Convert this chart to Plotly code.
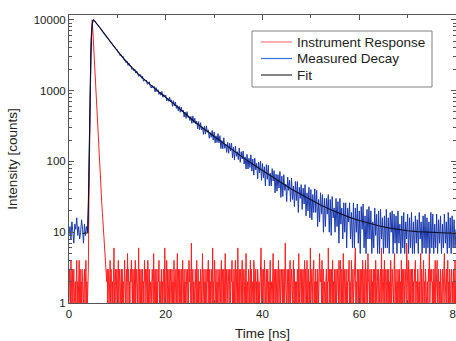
import plotly.graph_objects as go

IRF_STEP = 0.1    # channel width of the instrument response (ns)
DECAY_STEP = 0.2  # channel width of the measured decay (ns)

# Instrument response counts, one row per ns (10 channels per row)
irf_counts = [
    1, 3, 2, 1, 4, 2, 1, 3, 1, 2,
    3, 1, 2, 2, 1, 3, 4, 1, 2, 1,
    2, 4, 1, 3, 1, 2, 1, 3, 2, 1,
    1, 2, 3, 1, 2, 4, 1, 2, 1, 2,
    3, 20, 150, 550, 1500, 3200, 6000, 8500, 10000, 7800,
    5600, 4100, 3000, 2100, 1500, 1100, 800, 580, 420, 310,
    230, 170, 125, 95, 70, 52, 40, 31, 24, 19,
    15, 12, 9, 7, 6, 5, 4, 3, 2, 3,
    1, 3, 2, 1, 2, 4, 1, 3, 2, 1,
    2, 1, 3, 6, 1, 2, 3, 1, 2, 3,
    1, 2, 4, 1, 3, 2, 1, 2, 3, 1,
    3, 1, 2, 1, 3, 4, 2, 1, 2, 3,
    1, 5, 2, 3, 1, 2, 1, 3, 2, 4,
    2, 1, 3, 1, 2, 3, 1, 4, 1, 2,
    3, 2, 1, 2, 6, 1, 3, 2, 1, 3,
    1, 2, 3, 1, 2, 1, 4, 2, 3, 1,
    2, 3, 1, 4, 1, 2, 3, 1, 2, 2,
    1, 2, 3, 2, 1, 5, 1, 2, 3, 1,
    3, 1, 2, 1, 3, 2, 4, 1, 2, 1,
    2, 3, 1, 2, 1, 3, 2, 1, 6, 2,
    1, 2, 4, 1, 3, 1, 2, 3, 1, 2,
    3, 1, 2, 3, 1, 2, 1, 4, 2, 1,
    2, 3, 1, 2, 5, 1, 3, 2, 1, 3,
    1, 2, 3, 1, 2, 4, 1, 2, 3, 1,
    2, 1, 3, 2, 1, 3, 2, 1, 4, 2,
    3, 2, 1, 7, 1, 2, 3, 1, 2, 1,
    1, 3, 2, 1, 4, 2, 1, 3, 1, 2,
    2, 1, 3, 2, 1, 3, 5, 1, 2, 3,
    1, 2, 1, 3, 2, 1, 3, 2, 4, 1,
    3, 1, 2, 1, 3, 2, 1, 6, 1, 2,
    2, 4, 1, 2, 3, 1, 2, 1, 3, 2,
    1, 2, 3, 1, 2, 4, 1, 3, 2, 1,
    3, 1, 2, 5, 1, 2, 3, 1, 2, 3,
    2, 1, 3, 2, 1, 3, 2, 4, 1, 2,
    1, 3, 1, 2, 4, 1, 2, 3, 1, 6,
    2, 1, 3, 1, 2, 3, 1, 2, 4, 1,
    3, 2, 1, 2, 3, 1, 5, 1, 2, 2,
    1, 3, 2, 1, 2, 4, 1, 3, 1, 2,
    2, 1, 4, 3, 1, 2, 3, 1, 2, 1,
    3, 2, 1, 2, 1, 3, 2, 6, 1, 3,
    1, 2, 3, 1, 4, 2, 1, 2, 3, 1,
    2, 3, 1, 2, 1, 3, 4, 1, 2, 2,
    1, 2, 5, 1, 3, 2, 1, 3, 1, 2,
    3, 1, 2, 4, 1, 2, 3, 1, 2, 3,
    2, 1, 3, 1, 2, 3, 1, 7, 2, 1,
    1, 3, 2, 1, 3, 1, 2, 4, 1, 2,
    3, 2, 1, 2, 4, 1, 3, 1, 2, 1,
    2, 1, 3, 2, 1, 5, 1, 2, 3, 2,
    1, 3, 1, 2, 3, 1, 2, 4, 1, 3,
    2, 1, 4, 1, 2, 3, 1, 2, 1, 6,
    1, 2, 3, 2, 1, 3, 4, 1, 2, 1,
    3, 1, 2, 1, 3, 2, 1, 3, 5, 2,
    2, 3, 1, 4, 1, 2, 3, 1, 2, 1,
    1, 2, 3, 1, 2, 1, 6, 2, 3, 1,
    3, 1, 2, 3, 1, 4, 1, 2, 1, 3,
    2, 1, 3, 1, 2, 3, 2, 1, 4, 2,
    1, 4, 2, 1, 3, 1, 2, 5, 1, 2,
    3, 1, 2, 3, 1, 2, 1, 3, 2, 4,
    1, 2, 1, 3, 4, 1, 2, 3, 1, 2,
    2, 3, 6, 1, 2, 1, 3, 2, 1, 3,
    1, 2, 3, 1, 3, 2, 1, 4, 2, 1,
    3, 1, 2, 4, 1, 2, 3, 1, 5, 2,
    2, 1, 3, 1, 2, 3, 1, 2, 1, 3,
    1, 3, 2, 1, 4, 1, 2, 3, 2, 1,
    3, 2, 1, 2, 3, 1, 6, 1, 2, 3,
    2, 1, 4, 1, 2, 3, 1, 2, 3, 1,
    1, 3, 1, 2, 1, 4, 2, 1, 3, 2,
    2, 1, 3, 5, 1, 2, 3, 1, 2, 1,
    3, 2, 1, 3, 1, 2, 1, 4, 1, 3,
    1, 2, 3, 1, 2, 3, 2, 1, 7, 2,
    2, 1, 4, 2, 1, 3, 1, 2, 3, 1,
    3, 1, 2, 1, 3, 2, 4, 1, 2, 2,
    1, 3, 2, 1, 2, 1, 3, 5, 1, 3,
    2, 1, 3, 4, 1, 2, 1, 3, 2, 1,
    1, 2, 1, 3, 2, 6, 1, 2, 3, 2,
    3, 1, 2, 1, 3, 1, 2, 4, 1, 2,
    2, 4, 1, 2, 3, 1, 2, 1, 3, 1,
    1, 2, 3, 1, 2, 3, 5, 1, 2, 3,
    3, 1, 2, 4, 1, 2, 1, 3, 1, 2,
    2, 3, 1, 2, 1, 3, 2, 1, 4, 1,
    2,
]

# Measured decay counts, one row per ns (5 channels per row)
decay_counts = [
    9, 12, 8, 14, 10,
    7, 13, 11, 16, 9,
    12, 8, 10, 15, 11,
    7, 13, 9, 12, 10,
    22, 200, 1400, 5000, 8600,
    9900, 9850, 9420, 9080, 8790,
    8380, 8120, 7810, 7470, 7150,
    6830, 6520, 6270, 5930, 5700,
    5430, 5260, 5000, 4840, 4610,
    4470, 4270, 4120, 3930, 3810,
    3782, 3420, 3418, 3084, 3204,
    2951, 3044, 2692, 2711, 2469,
    2577, 2271, 2424, 2210, 2216,
    1992, 2058, 1906, 2011, 1770,
    1897, 1723, 1592, 1687, 1677,
    1497, 1592, 1355, 1447, 1361,
    1408, 1225, 1281, 1333, 1145,
    1087, 1183, 1086, 1153, 960,
    1104, 971, 1033, 885, 952,
    861, 973, 808, 878, 820,
    866, 716, 783, 707, 808,
    693, 740, 600, 718, 607,
    691, 561, 614, 517, 597,
    494, 585, 502, 532, 424,
    498, 405, 504, 416, 429,
    378, 432, 345, 439, 352,
    407, 337, 370, 287, 365,
    278, 352, 278, 308, 241,
    313, 243, 318, 258, 279,
    212, 256, 219, 274, 200,
    260, 183, 230, 185, 247,
    183, 231, 152, 197, 151,
    216, 153, 175, 134, 186,
    130, 180, 141, 182, 113,
    159, 105, 164, 118, 137,
    106, 155, 97, 137, 108,
    140, 92, 116, 78, 126,
    78, 111, 82, 124, 73,
    108, 64, 111, 76, 94,
    57, 98, 69, 101, 54,
    93, 59, 84, 45, 90,
    56, 88, 45, 68, 45,
    79, 53, 74, 36, 66,
    38, 65, 42, 72, 31,
    62, 32, 65, 39, 48,
    27, 60, 39, 54, 27,
    58, 29, 45, 23, 52,
    28, 52, 19, 43, 30,
    47, 21, 42, 25, 47,
    17, 36, 20, 43, 16,
    40, 15, 34, 19, 41,
    19, 39, 12, 29, 14,
    36, 18, 34, 10, 30,
    12, 30, 18, 34, 10,
    29, 9, 32, 16, 22,
    10, 30, 12, 27, 7,
    30, 13, 22, 8, 26,
    10, 26, 6, 22, 14,
    26, 8, 19, 6, 26,
    6, 22, 10, 25, 7,
    20, 5, 23, 11, 25,
    6, 17, 5, 21, 8,
    23, 8, 20, 5, 14,
    6, 22, 9, 18, 5,
    20, 5, 21, 8, 16,
    5, 17, 6, 21, 6,
    16, 5, 19, 10, 20,
    5, 18, 7, 17, 5,
    20, 7, 13, 5, 17,
    6, 19, 5, 14, 8,
    18, 5, 16, 6, 19,
    5, 14, 5, 17, 7,
    15, 5, 19, 8, 14,
    5, 17, 6, 18, 5,
    16, 6, 14, 5, 19,
    6, 18, 5, 13, 6,
    18, 5, 15, 7, 17,
    5, 13, 6, 18, 7,
    14, 5, 19, 6, 16,
    5, 17, 6, 15, 6,
    11,
]

fit_time = [2.8, 3.4, 3.9, 4.1, 4.3, 4.5, 4.7, 4.9, 5.1, 5.5, 6, 6.5, 7, 7.5, 8,
            9, 10, 11, 12, 13, 14, 15, 16, 17, 18, 19, 20, 22, 24, 26, 28, 30,
            32, 34, 36, 38, 40, 42, 44, 46, 48, 50, 52, 54, 56, 58, 60, 62, 64,
            66, 68, 70, 72, 74, 76, 78, 80]
fit_counts = [9.6, 9.6, 9.8, 60, 600, 3000, 7200, 9600, 10000, 9300, 8400, 7600,
              6800, 6100, 5450, 4450, 3650, 3000, 2500, 2080, 1790, 1550, 1340,
              1170, 1030, 910, 810, 625, 475, 360, 285, 225, 178, 142, 113, 91,
              74, 60, 49, 40.5, 34, 28.5, 24.3, 21, 18.3, 16.2, 14.6, 13.3, 12.3,
              11.5, 10.9, 10.5, 10.2, 10.0, 9.85, 9.75, 9.7]

series_names = ["Instrument Response", "Measured Decay", "Fit"]
series_colors = ["#ff2020", "#1a3aae", "#10102a"]
legend_colors = ["#ff7a7a", "#3a6cf0", "#333333"]

y_major = [1, 10, 100, 1000, 10000]
y_major_text = ["1", "10", "100", "1000", "10000"]
x_major = [0, 20, 40, 60, 80]

irf_time = [round(i * IRF_STEP, 1) for i in range(len(irf_counts))]
decay_time = [round(i * DECAY_STEP, 1) for i in range(len(decay_counts))]
y_minor = [m * d for d in y_major[:-1] for m in range(2, 10)]

fig = go.Figure()
fig.add_trace(go.Scatter(x=irf_time, y=irf_counts, mode="lines", name=series_names[0],
                         line=dict(color=series_colors[0], width=1)))
fig.add_trace(go.Scatter(x=decay_time, y=decay_counts, mode="lines", name=series_names[1],
                         line=dict(color=series_colors[1], width=1)))
fig.add_trace(go.Scatter(x=fit_time, y=fit_counts, mode="lines", name=series_names[2],
                         line=dict(color=series_colors[2], width=1.1)))

# plot-area geometry in pixels, used to place the hand-drawn legend
L, R, T, B = 69, 456, 15, 303
def px_x(p):
    return (p - L) / (R - L)
def px_y(p):
    return (B - p) / (B - T)

shapes = [dict(type="rect", xref="paper", yref="paper",
               x0=px_x(252), x1=px_x(432), y0=px_y(87), y1=px_y(31),
               line=dict(color="#808080", width=1), fillcolor="white", layer="above")]
annotations = []
row_y = [42, 58.5, 75]
for name, col, yy in zip(series_names, legend_colors, row_y):
    shapes.append(dict(type="line", xref="paper", yref="paper",
                       x0=px_x(261), x1=px_x(292), y0=px_y(yy), y1=px_y(yy),
                       line=dict(color=col, width=1.2), layer="above"))
    annotations.append(dict(text=name, xref="paper", yref="paper", x=px_x(295), y=px_y(yy),
                            xanchor="left", yanchor="middle", showarrow=False,
                            font=dict(size=13.5, color="#222")))

font = "Liberation Sans, Arial, sans-serif"
fig.update_layout(
    width=456, height=341,
    margin=dict(l=L, r=0, t=T, b=341 - B, autoexpand=False),
    paper_bgcolor="white", plot_bgcolor="white",
    font=dict(family=font, color="#222"),
    showlegend=False,
    shapes=shapes, annotations=annotations,
)
fig.update_xaxes(
    range=[0, 80], tickvals=x_major, ticktext=[str(v) for v in x_major],
    ticks="inside", ticklen=5, tickcolor="#555", showline=True, linecolor="#555",
    linewidth=1, mirror="ticks", showgrid=False, zeroline=False,
    automargin=False, ticklabeloverflow="allow",
    tickfont=dict(size=11.5), title=dict(text="Time [ns]", font=dict(size=13.5), standoff=14),
    minor=dict(dtick=10, tick0=0, ticks="inside", ticklen=3, tickcolor="#555", showgrid=False),
)
fig.update_yaxes(
    type="log", range=[0, 4.068], tickvals=y_major, ticktext=y_major_text,
    ticks="inside", ticklen=5, tickcolor="#555", showline=True, linecolor="#555",
    linewidth=1, mirror="ticks", showgrid=False, zeroline=False, automargin=False,
    tickfont=dict(size=11.5), title=dict(text="Intensity [counts]", font=dict(size=13.5), standoff=12),
    minor=dict(tickvals=y_minor, ticks="inside", ticklen=3, tickcolor="#555", showgrid=False),
)

fig.write_html("out.html")
